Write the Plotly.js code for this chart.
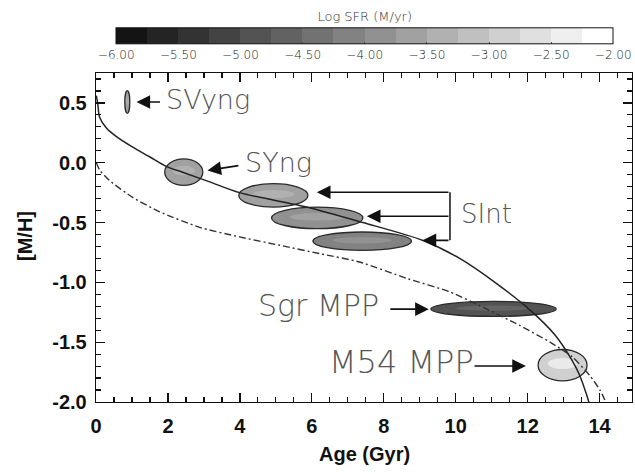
<!DOCTYPE html>
<html>
<head>
<meta charset="utf-8">
<script src="https://cdn.plot.ly/plotly-3.0.1.min.js"></script>
<style>html,body{margin:0;padding:0;background:#fff;}#chart{width:635px;height:474px;}</style>
</head>
<body>
<div id="chart"></div>
<script>
// ---------------- data ----------------
// colour bar (Log SFR, M/yr)
const sfrTicks = [-6.00, -5.50, -5.00, -4.50, -4.00, -3.50, -3.00, -2.50, -2.00];
const sfrTickText = ['\u22126.00', '\u22125.50', '\u22125.00', '\u22124.50', '\u22124.00', '\u22123.50', '\u22123.00', '\u22122.50', '\u22122.00'];
const sfrBandCentres = [-5.875, -5.625, -5.375, -5.125, -4.875, -4.625, -4.375, -4.125,
                        -3.875, -3.625, -3.375, -3.125, -2.875, -2.625, -2.375, -2.125];

// age-metallicity relation (solid)
const amrAge = [0.01, 0.05, 0.10, 0.29, 0.56, 1.02, 1.49, 1.95, 2.41, 3.16, 3.99, 5.85, 7.42, 9.09, 10.11, 11.09, 12.06, 12.76, 13.23, 13.45, 13.65, 13.70];
const amrMH  = [0.56, 0.49, 0.38, 0.29, 0.22, 0.13, 0.05, -0.03, -0.08, -0.16, -0.25, -0.37, -0.50, -0.65, -0.80, -1.00, -1.23, -1.44, -1.65, -1.78, -1.95, -2.00];

// second relation (dash-dot)
const amr2Age = [0.01, 0.10, 0.38, 1.02, 1.77, 2.88, 3.99, 5.11, 6.22, 7.33, 8.67, 9.84, 10.77, 11.78, 12.62, 13.23, 13.73, 14.01, 14.17];
const amr2MH  = [0.00, -0.06, -0.15, -0.29, -0.41, -0.54, -0.62, -0.69, -0.76, -0.83, -0.97, -1.08, -1.21, -1.36, -1.50, -1.62, -1.78, -1.90, -2.00];

// stellar populations
const popNames      = ['SVyng', 'SYng', 'SInt', 'SInt', 'SInt', 'Sgr MPP', 'M54 MPP'];
const popAge        = [0.87, 2.44, 4.93, 6.15, 7.40, 11.05, 12.97];
const popMH         = [0.508, -0.078, -0.273, -0.461, -0.656, -1.222, -1.692];
const popAgeSpread  = [0.07, 0.53, 0.96, 1.27, 1.37, 1.74, 0.68];
const popMHSpread   = [0.095, 0.111, 0.098, 0.090, 0.077, 0.063, 0.131];
const popLogSFR     = [-3.75, -3.6, -3.7, -3.95, -4.2, -4.9, -3.0];
const popPeakLogSFR = [-3.5, -3.2, -3.2, -3.5, -3.7, -4.4, -2.2];

// ---------------- helpers ----------------
function greyFor(v) {
  let idx = Math.floor((v + 6) / 0.25);
  idx = Math.max(0, Math.min(15, idx));
  const g = Math.round(20 + 235 * idx / 15);
  return 'rgb(' + g + ',' + g + ',' + g + ')';
}
const colorscale = [];
sfrBandCentres.forEach((c, i) => {
  colorscale.push([i / 16, greyFor(c)]);
  colorscale.push([(i + 1) / 16, greyFor(c)]);
});

// ---------------- traces ----------------
const traces = [
  {
    type: 'scatter', mode: 'lines', x: amrAge, y: amrMH, showlegend: false,
    line: {color: '#222', width: 1.5, shape: 'spline', smoothing: 0.8},
    hoverinfo: 'skip'
  },
  {
    type: 'scatter', mode: 'lines', x: amr2Age, y: amr2MH, showlegend: false,
    line: {color: '#333', width: 1.4, dash: '7px,3px,2px,3px', shape: 'spline', smoothing: 0.6},
    hoverinfo: 'skip'
  },
  {
    // population centres, coloured by log SFR; carries the colour bar
    type: 'scatter', mode: 'markers', x: popAge, y: popMH, hoverinfo: 'skip', showlegend: false,
    marker: {
      size: 2, opacity: 0, color: popLogSFR, cmin: -6, cmax: -2, colorscale: colorscale, showscale: true,
      colorbar: {
        orientation: 'h', thickness: 16, thicknessmode: 'pixels', len: 497, lenmode: 'pixels',
        x: 0.5014, xanchor: 'center', y: 1.1033, yanchor: 'middle', xpad: 0, ypad: 0,
        outlinewidth: 1, outlinecolor: '#111', borderwidth: 0,
        tickmode: 'array', tickvals: sfrTicks, ticktext: sfrTickText,
        ticks: 'inside', ticklen: 2, tickcolor: '#555',
        tickfont: {family: 'DejaVu Sans, sans-serif', size: 12, color: '#222', weight: 200},
        title: {text: 'Log SFR (M/yr)', side: 'top', font: {family: 'DejaVu Sans, sans-serif', size: 13, color: '#333', weight: 200}}
      }
    }
  }
];

// ellipses for populations
const shapes = [];
popAge.forEach((a, i) => {
  shapes.push({
    type: 'circle', xref: 'x', yref: 'y', layer: 'below',
    x0: a - popAgeSpread[i], x1: a + popAgeSpread[i],
    y0: popMH[i] - popMHSpread[i], y1: popMH[i] + popMHSpread[i],
    fillcolor: greyFor(popLogSFR[i]), line: {color: '#2a2a2a', width: 1.3}
  });
  shapes.push({
    type: 'circle', xref: 'x', yref: 'y', layer: 'below',
    x0: a - 0.6 * popAgeSpread[i], x1: a + 0.6 * popAgeSpread[i],
    y0: popMH[i] - 0.25 * popMHSpread[i], y1: popMH[i] + 0.45 * popMHSpread[i],
    fillcolor: greyFor(popPeakLogSFR[i]), line: {width: 0}, opacity: 0.55
  });
});
// SInt bracket
shapes.push({type: 'line', xref: 'x', yref: 'y', x0: 9.84, x1: 9.84, y0: -0.247, y1: -0.649, line: {color: '#111', width: 1.5}});

const labelFont = {family: 'DejaVu Sans, Liberation Sans, sans-serif', size: 27, color: '#555', weight: 200};
function arrow(hx, hy, tx, ty) {
  return {xref: 'x', yref: 'y', axref: 'x', ayref: 'y', x: hx, y: hy, ax: tx, ay: ty,
          text: '', showarrow: true, arrowhead: 2, arrowsize: 1.7, arrowwidth: 1.6, arrowcolor: '#111', standoff: 0};
}
function label(txt, x, y, size) {
  return {xref: 'x', yref: 'y', x: x, y: y, text: txt, showarrow: false, xanchor: 'left', yanchor: 'middle',
          font: Object.assign({}, labelFont, {size: size})};
}
const annotations = [
  label(popNames[0], 1.88, 0.530, 27),
  label(popNames[1], 4.10, 0.003, 27),
  label(popNames[2], 10.08, -0.431, 26),
  label(popNames[5], 4.45, -1.193, 30),
  label(popNames[6], 6.43, -1.669, 32),
  arrow(1.127, 0.508, 1.82, 0.508),
  arrow(3.10, -0.064, 4.00, -0.022),
  arrow(6.14, -0.247, 9.84, -0.247),
  arrow(7.53, -0.448, 9.84, -0.448),
  arrow(9.08, -0.649, 9.84, -0.649),
  arrow(9.25, -1.224, 8.14, -1.224),
  arrow(11.95, -1.699, 10.48, -1.699),
  {xref: 'paper', yref: 'paper', x: 0.501, y: -0.158, xanchor: 'center', yanchor: 'middle', text: 'Age (Gyr)', showarrow: false,
   font: {family: 'Liberation Sans, Arial, sans-serif', size: 20, color: '#111', weight: 'bold'}},
  {xref: 'paper', yref: 'paper', x: -0.1325, y: 0.5046, xanchor: 'center', yanchor: 'middle', text: '[M/H]', showarrow: false, textangle: -90,
   font: {family: 'Liberation Sans, Arial, sans-serif', size: 20, color: '#111', weight: 'bold'}}
];

const axisFont = {family: 'Liberation Sans, Arial, sans-serif', size: 20, color: '#111', weight: 'bold'};
const mhTicks = [-2.0, -1.5, -1.0, -0.5, 0.0, 0.5];
const mhTickText = ['-2.0', '-1.5', '-1.0', '-0.5', '0.0', '0.5'];

const layout = {
  width: 635, height: 474,
  margin: {l: 96, r: 3, t: 73, b: 72},
  xaxis: {
    range: [0, 14.9], tickmode: 'linear', tick0: 0, dtick: 2,
    ticks: 'inside', ticklen: 9, tickwidth: 1.3, tickcolor: '#111',
    minor: {tickmode: 'linear', tick0: 0, dtick: 0.5, ticks: 'inside', ticklen: 5, tickwidth: 1.2, tickcolor: '#111', showgrid: false},
    showline: true, linecolor: '#111', linewidth: 1.3, mirror: 'ticks',
    showgrid: false, zeroline: false, tickfont: axisFont, ticklabelstandoff: 6
  },
  yaxis: {
    range: [-2.0, 0.75], tickmode: 'array', tickvals: mhTicks, ticktext: mhTickText,
    ticks: 'inside', ticklen: 9, tickwidth: 1.3, tickcolor: '#111',
    minor: {tickmode: 'linear', tick0: 0, dtick: 0.1, ticks: 'inside', ticklen: 5, tickwidth: 1.2, tickcolor: '#111', showgrid: false},
    showline: true, linecolor: '#111', linewidth: 1.3, mirror: 'ticks',
    showgrid: false, zeroline: false, tickfont: axisFont, ticklabelstandoff: 4
  },
  shapes: shapes,
  annotations: annotations
};

Plotly.newPlot('chart', traces, layout, {staticPlot: true, displayModeBar: false});
</script>
</body>
</html>
